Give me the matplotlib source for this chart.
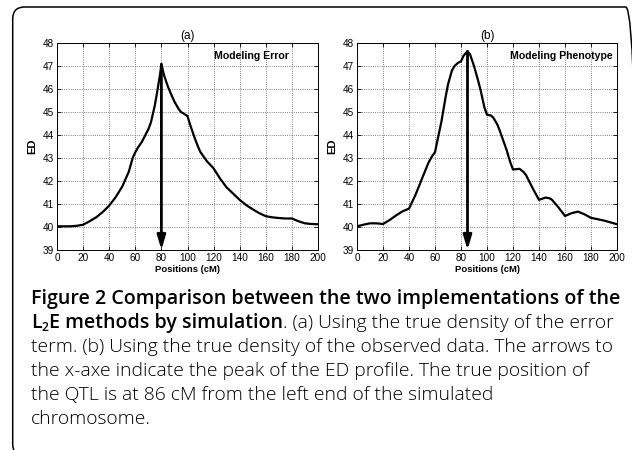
import matplotlib
matplotlib.use('Agg')
import matplotlib.pyplot as plt
from matplotlib.patches import FancyBboxPatch

# ED profiles
pos_a = [0, 10, 15, 20, 25, 30, 35, 40, 45, 50, 55, 58, 60, 62, 65, 70, 72, 75, 77, 79,
         80, 82, 85, 88, 90, 93, 95, 98, 100, 102, 105, 108, 110, 115, 120, 125, 130,
         135, 140, 145, 150, 155, 160, 165, 170, 175, 180, 185, 190, 195, 200]
ed_a = [40.03, 40.03, 40.05, 40.1, 40.25, 40.42, 40.65, 40.93, 41.3, 41.76, 42.4, 43.0,
        43.25, 43.45, 43.7, 44.25, 44.55, 45.3, 45.95, 46.65, 47.08, 46.6, 46.1, 45.7,
        45.45, 45.15, 45.0, 44.9, 44.82, 44.45, 43.95, 43.5, 43.25, 42.85, 42.55, 42.1,
        41.72, 41.45, 41.18, 40.95, 40.77, 40.6, 40.47, 40.42, 40.39, 40.37, 40.37,
        40.25, 40.16, 40.13, 40.12]

pos_b = [0, 5, 10, 15, 20, 25, 30, 35, 40, 45, 50, 55, 58, 60, 62, 65, 68, 70, 73, 75,
         78, 80, 82, 85, 87, 90, 93, 95, 98, 100, 103, 105, 108, 110, 115, 118, 120, 125,
         128, 130, 135, 140, 145, 148, 150, 155, 160, 165, 170, 175, 180, 190, 200]
ed_b = [40.03, 40.1, 40.16, 40.16, 40.13, 40.3, 40.5, 40.68, 40.8, 41.4, 42.1, 42.8,
        43.1, 43.25, 43.8, 44.6, 45.6, 46.2, 46.8, 47.0, 47.15, 47.2, 47.45, 47.64, 47.5,
        47.0, 46.4, 45.97, 45.2, 44.88, 44.85, 44.74, 44.45, 44.16, 43.36, 42.8, 42.5,
        42.53, 42.4, 42.26, 41.7, 41.18, 41.28, 41.25, 41.18, 40.85, 40.48, 40.6, 40.67,
        40.55, 40.4, 40.28, 40.12]

peak_a = 80
peak_b = 85

panels = [('(a)', 'Modeling Error', pos_a, ed_a, peak_a, 0.889),
          ('(b)', 'Modeling Phenotype', pos_b, ed_b, peak_b, 0.985)]

xticks = list(range(0, 201, 20))
yticks = list(range(39, 49))

caption_bold = 'Figure 2 Comparison between the two implementations of the'
caption_lines = ['term. (b) Using the true density of the observed data. The arrows to',
                 'the x-axe indicate the peak of the ED profile. The true position of',
                 'the QTL is at 86 cM from the left end of the simulated',
                 'chromosome.']

W, H = 632, 450
fig = plt.figure(figsize=(W / 100, H / 100), dpi=100)
renderer = fig.canvas.get_renderer()


def fit(t, width_px):
    # scale a text's font size so it spans the wanted width
    w = t.get_window_extent(renderer=renderer).width
    t.set_fontsize(t.get_fontsize() * width_px / w)
    return t.get_fontsize()


# rounded frame, its right and bottom sides run off the picture
frame = FancyBboxPatch((12.7 / 100, -6 / 100), 625 / 100, 449 / 100,
                       boxstyle='round,pad=0,rounding_size=0.12',
                       transform=fig.dpi_scale_trans, fill=False, lw=1.1, ec='black')
fig.patches.append(frame)

rects = [[57 / W, 200 / H, 261 / W, 207 / H],
         [357 / W, 200 / H, 260 / W, 207 / H]]

tickfont = 'Liberation Sans'
for rect, (title, tag, xs, ys, peak, tag_x) in zip(rects, panels):
    ax = fig.add_axes(rect)
    ax.plot(xs, ys, color='black', lw=1.6, solid_joinstyle='round')
    ax.set_xlim(0, 200)
    ax.set_ylim(39, 48)
    ax.set_xticks(xticks)
    ax.set_yticks(yticks)
    ax.grid(True, ls=':', color='#555555', lw=0.6)
    ax.tick_params(direction='in', top=True, right=True, length=3, width=0.6,
                   labelsize=7.2, pad=2.5)
    for lab in ax.get_xticklabels() + ax.get_yticklabels():
        lab.set_family(tickfont)
    for sp in ax.spines.values():
        sp.set_linewidth(0.7)
    ax.set_title(title, fontsize=8.5, family=tickfont, pad=3)
    xl = ax.set_xlabel('Positions (cM)', fontsize=8, fontweight='bold', family=tickfont,
                       labelpad=1)
    fit(xl, 65)
    ax.set_ylabel('ED', fontsize=8, fontweight='bold', family=tickfont, labelpad=3.5)
    ax.text(tag_x, 0.935, tag, transform=ax.transAxes, ha='right', va='center',
            fontsize=7.6, fontweight='bold', family=tickfont)
    top = max(ys)
    ax.annotate('', xy=(peak, 39), xytext=(peak, top),
                arrowprops=dict(arrowstyle='-|>,head_width=0.25,head_length=0.85',
                                color='black', lw=2.0, shrinkA=0, shrinkB=0))

# caption, drawn piece by piece so bold and normal runs can share a line
capfont = 'Open Sans'
bold_w = 600
norm_w = 300
x0 = 31 / W
base_y = [304, 328, 352, 376, 400, 424]

probe = fig.text(x0, 0, caption_bold, fontsize=12, fontweight=bold_w, family=capfont)
fs_b = fit(probe, 588)
probe.remove()
probe = fig.text(x0, 0, caption_lines[0], fontsize=12, fontweight=norm_w, family=capfont)
fs_n = fit(probe, 581)
probe.remove()


def put(x, y, s, weight=norm_w, size=None, dy=0):
    if size is None:
        size = fs_b if weight == bold_w else fs_n
    t = fig.text(x, 1 - (y + dy) / H, s, fontsize=size, fontweight=weight,
                 family=capfont, va='baseline', ha='left')
    bb = t.get_window_extent(renderer=renderer)
    return x + bb.width / W


put(x0, base_y[0], caption_bold, bold_w)
x = put(x0, base_y[1], 'L', bold_w)
x = put(x, base_y[1], '2', bold_w, size=fs_b * 0.62, dy=3)
x = put(x, base_y[1], 'E methods by simulation', bold_w)
put(x, base_y[1], '. (a) Using the true density of the error')
for y, s in zip(base_y[2:], caption_lines):
    put(x0, y, s)

fig.savefig('out.png', dpi=100)
